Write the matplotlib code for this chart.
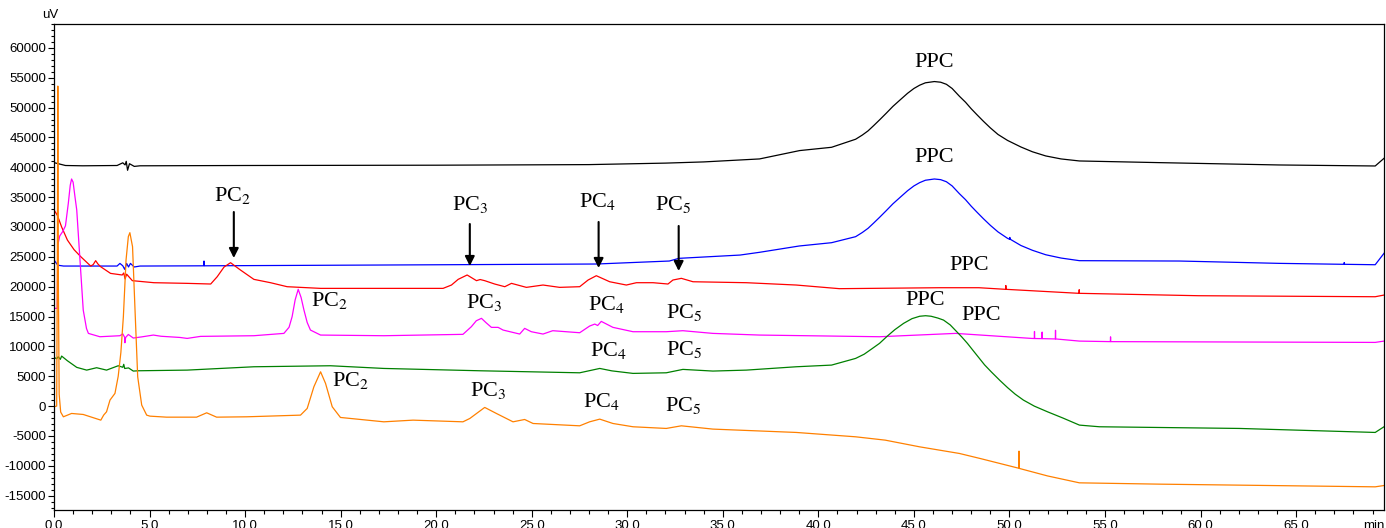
import matplotlib as mpl
mpl.use('Agg')
import matplotlib.pyplot as plt
from matplotlib.ticker import MultipleLocator, FormatStrFormatter

plt.rcParams['font.family'] = ['Liberation Sans', 'DejaVu Sans']
plt.rcParams['mathtext.fontset'] = 'stix'

# retention time (min) / detector signal (uV) for each run
black_t = [0, 0.1, 0.6, 1.5, 3.3, 3.6, 3.72, 3.78, 3.85, 3.95, 4.2, 4.5, 10, 20, 28,
           32, 34, 36.92, 39.02, 40.69,
           41.95, 42.3, 42.6, 42.9, 43.2, 43.55, 43.9, 44.3, 44.67, 45.0, 45.3, 45.6, 46.07, 46.4, 46.7,
           47.0, 47.38, 47.7, 48.0, 48.3, 48.64, 49.0, 49.4, 49.9, 50.6, 51.2, 51.9, 52.7, 53.66,
           57.85, 64.1, 69.14, 69.6]
black_v = [40780, 40700, 40300, 40250, 40300, 40750, 40400, 41000, 39500, 40600, 40150, 40250, 40300, 40350, 40450,
           40700, 40900, 41400, 42800, 43350,
           44700, 45400, 46100, 47000, 47930, 49050, 50200, 51350, 52400, 53200, 53750, 54150, 54360, 54250, 53900,
           53200, 51900, 50900, 49800, 48800, 47700, 46600, 45500, 44500, 43400, 42600, 41900, 41400, 41060,
           40780, 40390, 40220, 41500]

blue_t = [0, 0.2, 0.5, 3.3, 3.45, 3.6, 3.7, 3.8, 3.9, 4.0, 4.2, 4.5, 7.84, 7.85, 7.87,
          17.05, 28.38, 32.2, 32.7, 35.9, 36.92, 39.0, 40.69,
          41.95, 42.3, 42.6, 42.9, 43.2, 43.55, 43.9, 44.3, 44.67, 45.0, 45.3, 45.6, 46.07, 46.4, 46.7, 47.0,
          47.38, 47.7, 48.0, 48.3, 48.64, 49.0, 49.4, 49.9, 50.0, 50.02, 50.04, 50.6, 51.2, 51.9, 52.7, 53.66,
          58.9, 64.1, 67.5, 67.52, 67.54, 69.14, 69.6]
blue_v = [24470, 23600, 23460, 23460, 23900, 23500, 22900, 23900, 23300, 23900, 23300, 23460, 23500, 24300, 23500,
          23630, 23800, 24300, 24750, 25300, 25760, 26820, 27370,
          28380, 29080, 29780, 30680, 31610, 32730, 33880, 35030, 36080, 36880, 37430, 37830, 38040, 37930, 37580, 36880,
          35580, 34580, 33480, 32480, 31380, 30280, 29180, 28100, 27950, 28250, 27950, 26900, 26100, 25350, 24800, 24360,
          24300, 23910, 23750, 24050, 23750, 23680, 25590]

red_t = [0, 0.17, 0.4, 0.7, 1.05, 1.4, 1.92, 2.05, 2.18, 2.3, 2.44, 2.96, 3.57, 3.65, 3.72,
         3.8, 4.1, 5.23, 6.97, 8.2, 8.54, 8.9, 9.24, 9.5, 9.76, 10.46, 11.33, 12.2, 13.95, 17.26,
         20.36, 20.8, 21.15, 21.62, 22.11, 22.3, 22.54, 23.06, 23.59, 23.94, 24.72, 25.59, 26.46, 27.51, 27.95,
         28.38, 29.08, 29.95, 30.48, 31.35, 32.13, 32.39, 32.83, 33.44, 36.23, 38.84, 41.1, 46.34, 48.4, 49.8,
         49.81, 49.82, 53.64, 53.65, 53.66, 59.9, 69.14, 69.6]
red_v = [32850, 32000, 30000, 27820, 26200, 25030, 23460, 23700, 24360, 23800, 23350, 22230, 21960, 22300, 21300,
         22100, 21010, 20670, 20560, 20450, 21670, 23300, 24020, 23400, 22790, 21230, 20670, 20000, 19720, 19720,
         19720, 20280, 21230, 21960, 21010, 21200, 21010, 20450, 20000, 20560, 19890, 20280, 19890, 20000, 21120,
         21840, 20830, 20280, 20670, 20670, 20450, 21120, 21400, 20830, 20670, 20280, 19670, 19830, 19830, 19560,
         20200, 19560, 18890, 19500, 18890, 18490, 18320, 18600]

magenta_t = [0, 0.17, 0.2, 0.3, 0.45, 0.6, 0.75, 0.85, 0.92, 1.0, 1.1, 1.19, 1.36, 1.53, 1.7,
             1.8, 2.4, 3.45, 3.6, 3.7, 3.71, 3.75, 3.89, 4.15, 4.6, 5.2, 5.6, 6.59, 6.97, 7.67,
             10.46, 12.03, 12.3, 12.46, 12.62, 12.78, 12.93, 13.08, 13.25, 13.42, 13.95, 17.26, 21.4, 21.84, 22.1,
             22.37, 22.6, 22.89, 23.24, 23.5, 24.37, 24.63, 24.98, 25.59, 26.1, 27.51, 28.03, 28.3, 28.45, 28.64,
             29.25, 30.3, 32.04, 32.91, 34.48, 36.92, 43.2, 47.18, 51.15, 51.3, 51.31, 51.32, 51.7, 51.71, 51.72,
             52.4, 52.41, 52.42, 53.66, 55.28, 55.29, 55.3, 69.14, 69.6]
magenta_v = [16370, 16370, 27000, 28500, 29210, 30200, 34000, 37000, 38040, 37500, 35000, 32850, 24470, 16090, 13000,
             12180, 11620, 11790, 12100, 11500, 10610, 11500, 12000, 11400, 11600, 11900, 11700, 11500, 11340, 11680,
             11790, 12180, 13200, 14970, 17800, 19560, 18200, 16090, 14000, 12740, 11900, 11790, 12020, 13300, 14300,
             14700, 14000, 13190, 13190, 12740, 12070, 13020, 12460, 12070, 12630, 12290, 13410, 13740, 13500, 14190,
             13190, 12460, 12460, 12630, 12180, 11900, 11620, 12180, 11340, 11320, 12500, 11320, 11300, 12400, 11300,
             11250, 12700, 11250, 10890, 10800, 11600, 10800, 10670, 10890]

green_t = [0, 0.14, 0.22, 0.33, 0.4, 0.7, 1.19, 1.71, 2.23, 2.75, 3.36, 3.6, 3.65, 3.7, 3.9,
           4.15, 4.41, 6.97, 10.46, 14.47, 17.26, 22.28, 27.51, 28.56, 29.2, 30.3, 32.04, 32.91, 34.48, 36.23,
           38.84, 40.69,
           41.95, 42.4, 42.8, 43.2, 43.6, 44.0, 44.46, 44.9, 45.3, 45.61, 45.9, 46.25, 46.55, 46.9, 47.2, 47.5,
           47.8, 48.1, 48.4, 48.7, 49.06, 49.5, 49.9, 50.3, 50.73, 51.3, 51.99, 52.8, 53.66, 54.71, 62.03, 69.14, 69.6]
green_v = [8160, 7940, 8270, 7830, 8380, 7600, 6490, 6030, 6430, 6030, 6760, 6500, 7000, 6300, 6400,
           5870, 5920, 6030, 6590, 6760, 6310, 5920, 5580, 6310, 5900, 5480, 5580, 6150, 5870, 6030,
           6590, 6870,
           7990, 8700, 9600, 10510, 11700, 12800, 13860, 14650, 15050, 15140, 15050, 14750, 14410, 13600, 12600, 11600,
           10510, 9300, 8100, 6900, 5700, 4300, 3100, 2000, 1010, 0, -950, -2000, -3180, -3460, -3740, -4410, -3460]

orange_t = [0, 0.14, 0.17, 0.2, 0.23, 0.27, 0.35, 0.49, 0.92, 1.53, 2.45, 2.6, 2.75, 2.93, 3.19,
            3.36, 3.5, 3.63, 3.77, 3.89, 3.97, 4.11, 4.24, 4.38, 4.59, 4.85, 5.02, 5.89, 7.46, 7.99,
            8.51, 10.08, 12.9, 13.25, 13.6, 13.95, 14.21, 14.56, 14.99, 17.26, 18.79, 21.4, 21.76, 22.54, 23.15,
            24.02, 24.63, 25.07, 27.51, 28.03, 28.56, 29.25, 30.3, 32.04, 32.83, 34.48, 38.84, 41.95, 43.5, 45.3,
            47.38, 48.5, 50.48, 50.5, 50.52, 52.0, 53.66, 57.85, 69.14, 69.6]
orange_v = [-110, 0, 20000, 53600, 20000, 2000, -1000, -1790, -1230, -1400, -2350, -1500, -950, 1010, 2130,
            5000, 9000, 14970, 24470, 28380, 29050, 26700, 16090, 4910, 170, -1510, -1680, -1850, -1850, -1120,
            -1850, -1790, -1510, -390, 3240, 5750, 3800, -110, -1900, -2630, -2350, -2630, -2070, -220, -1230,
            -2630, -2240, -2910, -3300, -2630, -2180, -2910, -3460, -3740, -3300, -3850, -4410, -5140, -5700, -6820,
            -7930, -8800, -10400, -7540, -10440, -11700, -12850, -13070, -13520, -13300]

traces = [
    (black_t, black_v, 'black'),
    (blue_t, blue_v, '#0000ff'),
    (red_t, red_v, '#ff0000'),
    (magenta_t, magenta_v, '#ff00ff'),
    (green_t, green_v, '#008000'),
    (orange_t, orange_v, '#ff8000'),
]

# peak labels: text, time, signal
peak_labels = [
    ('PPC', 46.07, 57500), ('PPC', 46.07, 41560), ('PPC', 47.9, 23630),
    ('PPC', 45.6, 17770), ('PPC', 48.5, 15250),
    (r'PC$_2$', 9.36, 35200), (r'PC$_3$', 21.76, 33690), (r'PC$_4$', 28.45, 34200), (r'PC$_5$', 32.4, 33690),
    (r'PC$_2$', 14.43, 17770), (r'PC$_3$', 22.49, 17430), (r'PC$_4$', 28.9, 17100), (r'PC$_5$', 33.0, 15700),
    (r'PC$_4$', 29.0, 9390), (r'PC$_5$', 33.0, 9500),
    (r'PC$_2$', 15.5, 4360), (r'PC$_3$', 22.7, 2680), (r'PC$_4$', 28.64, 720), (r'PC$_5$', 32.9, 170),
]

# arrows on the red run: time, tail, head
arrow_t = [9.41, 21.76, 28.5, 32.69]
arrow_from = [32510, 30500, 30840, 30170]
arrow_to = [24800, 23460, 23130, 22630]

fig = plt.figure(figsize=(13.86, 5.28), dpi=100)
ax = fig.add_axes([54 / 1386, 18 / 528, 1330 / 1386, 486 / 528])

for t, v, c in traces:
    ax.plot(t, v, color=c, lw=0.9)

for s, t, v in peak_labels:
    ax.text(t, v, s, ha='center', va='center', fontsize=16, family='Liberation Serif')

for t, a, b in zip(arrow_t, arrow_from, arrow_to):
    ax.annotate('', xy=(t, b), xytext=(t, a),
                arrowprops=dict(arrowstyle='-|>', color='black', lw=1.5, mutation_scale=14,
                                shrinkA=0, shrinkB=0))

ax.set_xlim(0, 69.6)
ax.set_ylim(-17400, 64000)
ax.xaxis.set_major_locator(MultipleLocator(5))
ax.xaxis.set_minor_locator(MultipleLocator(1))
ax.xaxis.set_major_formatter(FormatStrFormatter('%.1f'))
ax.yaxis.set_major_locator(MultipleLocator(5000))
ax.yaxis.set_minor_locator(MultipleLocator(1000))
ax.yaxis.set_major_formatter(FormatStrFormatter('%d'))
ax.tick_params(axis='both', which='major', labelsize=9.5, direction='out', width=0.8)
ax.tick_params(axis='x', which='major', length=5, pad=2)
ax.tick_params(axis='x', which='minor', length=3, width=0.8)
ax.tick_params(axis='y', which='major', length=4.5, pad=1)
ax.tick_params(axis='y', which='minor', length=2.5, width=0.8)
for sp in ax.spines.values():
    sp.set_linewidth(0.9)

# units on the two axes
ax.text(-0.003, 1.006, 'uV', transform=ax.transAxes, ha='center', va='bottom', fontsize=9.5)
ax.text(0.992, -0.021, 'min', transform=ax.transAxes, ha='center', va='top', fontsize=9.5)

fig.savefig('out.png', dpi=100)
